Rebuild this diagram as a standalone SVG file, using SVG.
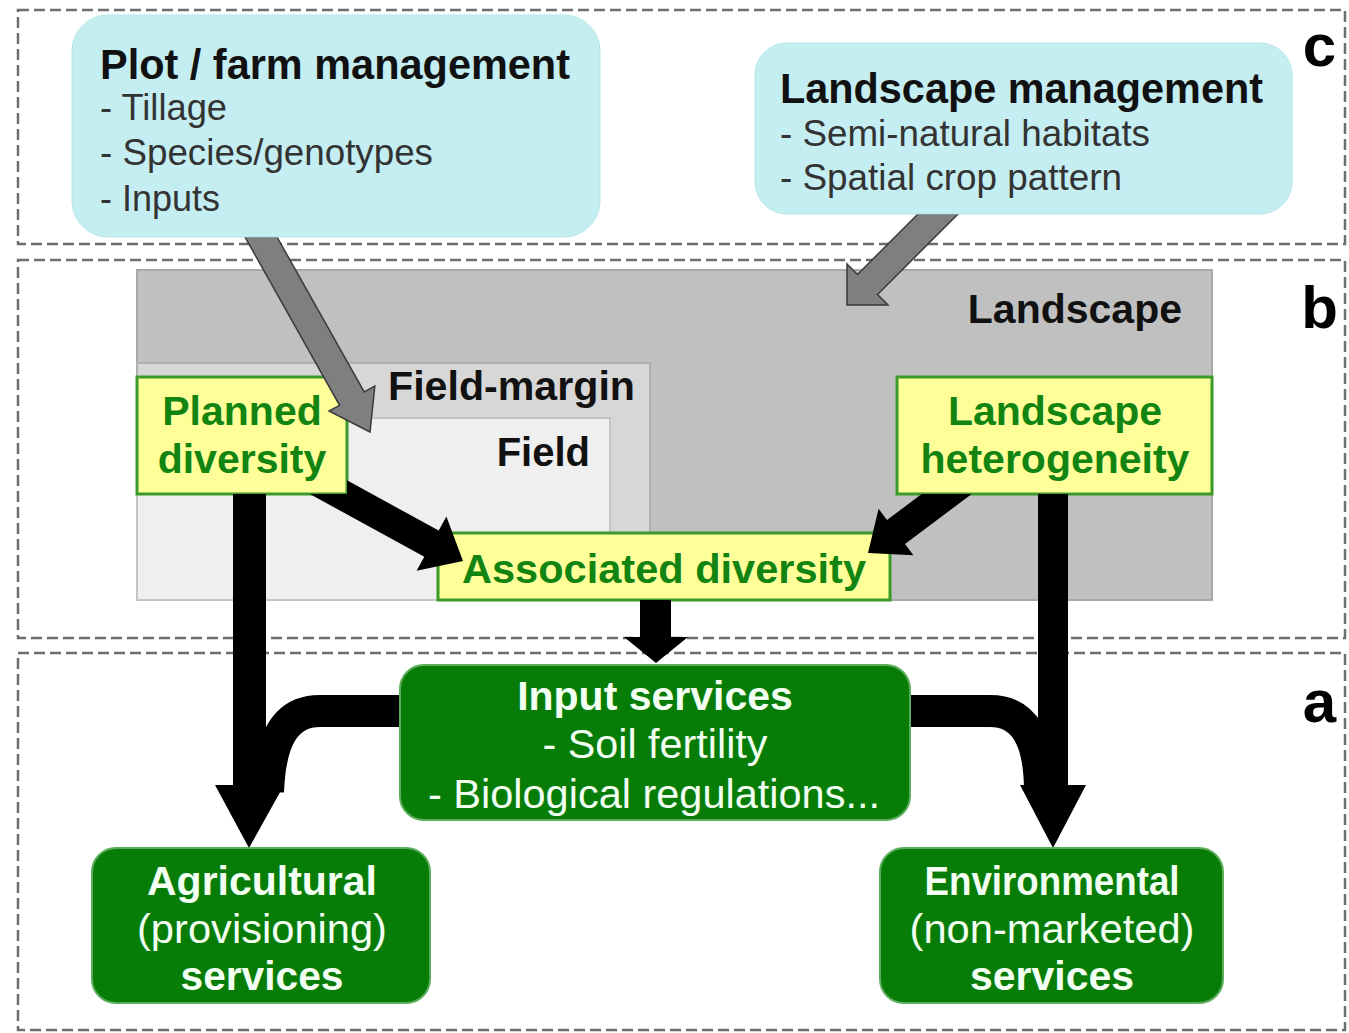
<svg xmlns="http://www.w3.org/2000/svg" width="1349" height="1033" viewBox="0 0 1349 1033">
<style>
.sec{fill:none;stroke:#6e6e6e;stroke-width:2.5;stroke-dasharray:11 5}
.cyan{fill:#c4eef2;stroke:#b8e6ea;stroke-width:1}
.yel{fill:#ffff99;stroke:#3a9a2a;stroke-width:3}
.grn{fill:#077d07;stroke:#5aad5a;stroke-width:2}
.t{font-family:"Liberation Sans",Arial,sans-serif}
.b{font-weight:bold}
.k{fill:#111}
.kd{fill:#333}
.g{fill:#118411;font-weight:bold}
.w{fill:#f2fff2}
.lab{font-family:"Liberation Sans",Arial,sans-serif;font-weight:bold;font-size:60px;fill:#000}
.ga{fill:#7f7f7f;stroke:#3a3a3a;stroke-width:1.5}
.ba{fill:#000}
</style>
<rect width="1349" height="1033" fill="#fff"/>
<g id="sections">
<rect class="sec" x="18" y="10" width="1327" height="234"/>
<rect class="sec" x="18" y="260" width="1327" height="378"/>
<rect class="sec" x="18" y="653" width="1327" height="377"/>
<text class="lab" x="1336" y="66" text-anchor="end">c</text>
<text class="lab" x="1338" y="328" text-anchor="end">b</text>
<text class="lab" x="1336" y="722" text-anchor="end">a</text>
</g>
<g id="landscape">
<rect x="137" y="270" width="1075" height="330" fill="#c0c0c0" stroke="#a9a9a9" stroke-width="2"/>
<text class="t b k" x="1182" y="323" font-size="41" text-anchor="end">Landscape</text>
</g>
<g id="field-margin">
<rect x="137" y="363" width="513" height="237" fill="#d7d7d7" stroke="#b0b0b0" stroke-width="2"/>
<text class="t b k" x="388" y="400" font-size="40" textLength="247" lengthAdjust="spacingAndGlyphs">Field-margin</text>
</g>
<g id="field">
<rect x="137" y="418" width="473" height="182" fill="#efefef" stroke="#c4c4c4" stroke-width="2"/>
<text class="t b k" x="590" y="466" font-size="40" text-anchor="end">Field</text>
</g>
<g id="associated-diversity">
<rect class="yel" x="438" y="533" width="452" height="67"/>
<text class="t g" x="664" y="583" font-size="41" text-anchor="middle" textLength="404" lengthAdjust="spacingAndGlyphs">Associated diversity</text>
</g>
<g id="planned-diversity">
<rect class="yel" x="137" y="377" width="210" height="117"/>
<text class="t g" x="242" y="425" font-size="41" text-anchor="middle">Planned</text>
<text class="t g" x="242" y="473" font-size="41" text-anchor="middle">diversity</text>
</g>
<g id="landscape-heterogeneity">
<rect class="yel" x="897" y="377" width="315" height="117"/>
<text class="t g" x="1055" y="425" font-size="41" text-anchor="middle">Landscape</text>
<text class="t g" x="1055" y="473" font-size="41" text-anchor="middle">heterogeneity</text>
</g>
<g id="connectors">
<polygon class="ga" points="245.0,237 277.0,237 364.2,391.9 374.8,386.2 370,432 329.0,411.0 339.6,405.3"/>
<polygon class="ga" points="918,214 958,214 877.5,294.5 888,305 847,305 847,264 857.5,274.5"/>
<polygon class="ba" points="309.8,494 347,494 347,480.3 438.7,530.6 446.4,516.6 463,561 416.6,570.8 424.3,556.8"/>
<polygon class="ba" points="921.7,494 971.7,494 905,544 913.4,555.2 868,553 878.6,508.8 887,520"/>
<polygon class="ba" points="640,600 671,600 671,637 688,637 656,663 624,637 640,637"/>
<path d="M402 711 L320 711 C285 711 270 740 268 792" fill="none" stroke="#000" stroke-width="32"/>
<path d="M908 711 L990 711 C1025 711 1040 740 1040 792" fill="none" stroke="#000" stroke-width="32"/>
<polygon class="ba" points="233,494 266,494 266,785 284,785 249,848 215,785 233,785"/>
<polygon class="ba" points="1038,494 1068,494 1068,785 1086,785 1053,848 1020,785 1038,785"/>
</g>
<g id="input-services">
<rect class="grn" x="400" y="665" width="510" height="155" rx="24"/>
<text class="t b w" x="655" y="710" font-size="41" text-anchor="middle">Input services</text>
<text class="t w" x="655" y="758" font-size="41" text-anchor="middle" textLength="225" lengthAdjust="spacingAndGlyphs">- Soil fertility</text>
<text class="t w" x="654" y="808" font-size="41" text-anchor="middle" textLength="452" lengthAdjust="spacingAndGlyphs">- Biological regulations...</text>
</g>
<g id="agricultural-services">
<rect class="grn" x="92" y="848" width="338" height="155" rx="24"/>
<text class="t b w" x="262" y="895" font-size="41" text-anchor="middle" textLength="230" lengthAdjust="spacingAndGlyphs">Agricultural</text>
<text class="t w" x="262" y="943" font-size="41" text-anchor="middle" textLength="250" lengthAdjust="spacingAndGlyphs">(provisioning)</text>
<text class="t b w" x="262" y="990" font-size="41" text-anchor="middle" textLength="163" lengthAdjust="spacingAndGlyphs">services</text>
</g>
<g id="environmental-services">
<rect class="grn" x="880" y="848" width="343" height="155" rx="24"/>
<text class="t b w" x="1052" y="895" font-size="41" text-anchor="middle" textLength="255" lengthAdjust="spacingAndGlyphs">Environmental</text>
<text class="t w" x="1052" y="943" font-size="41" text-anchor="middle" textLength="285" lengthAdjust="spacingAndGlyphs">(non-marketed)</text>
<text class="t b w" x="1052" y="990" font-size="41" text-anchor="middle" textLength="164" lengthAdjust="spacingAndGlyphs">services</text>
</g>
<g id="plot-farm-management">
<rect class="cyan" x="72" y="15" width="528" height="222" rx="36"/>
<text class="t b k" x="100" y="79" font-size="42" textLength="470" lengthAdjust="spacingAndGlyphs">Plot / farm management</text>
<text class="t kd" x="100" y="120" font-size="36" textLength="127" lengthAdjust="spacingAndGlyphs">- Tillage</text>
<text class="t kd" x="100" y="165" font-size="36" textLength="333" lengthAdjust="spacingAndGlyphs">- Species/genotypes</text>
<text class="t kd" x="100" y="211" font-size="36" textLength="120" lengthAdjust="spacingAndGlyphs">- Inputs</text>
</g>
<g id="landscape-management">
<rect class="cyan" x="755" y="43" width="537" height="171" rx="32"/>
<text class="t b k" x="780" y="103" font-size="42" textLength="483" lengthAdjust="spacingAndGlyphs">Landscape management</text>
<text class="t kd" x="780" y="146" font-size="36" textLength="370" lengthAdjust="spacingAndGlyphs">- Semi-natural habitats</text>
<text class="t kd" x="780" y="190" font-size="36" textLength="342" lengthAdjust="spacingAndGlyphs">- Spatial crop pattern</text>
</g>
</svg>
